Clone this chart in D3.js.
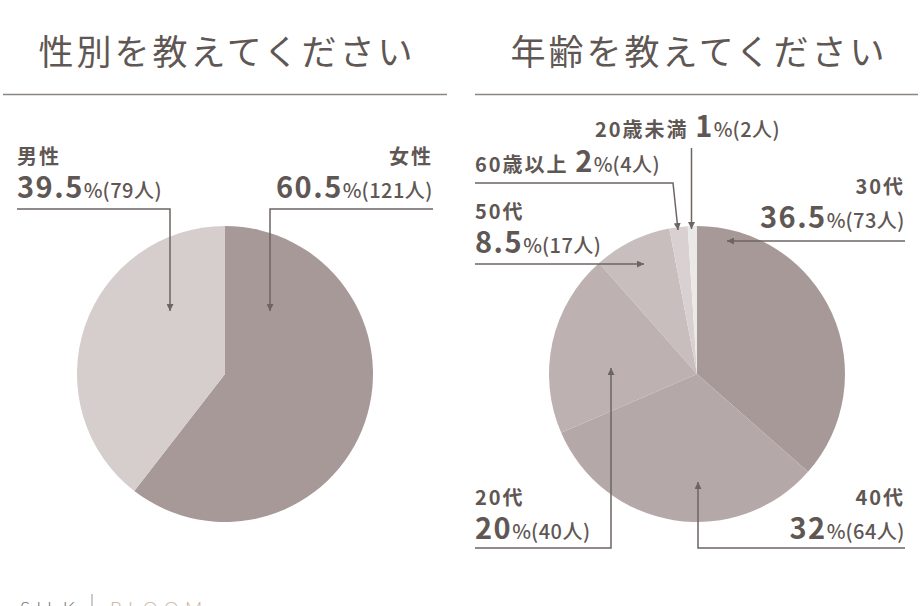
<!DOCTYPE html>
<html>
<head>
<meta charset="utf-8">
<script src="https://cdn.jsdelivr.net/npm/d3@7"></script>
<style>
  body { margin: 0; background: #fff; }
  svg { display: block; }
</style>
</head>
<body>
<script>
  // data
  var genderLabels = ['女性', '男性'];
  var genderValues = [60.5, 39.5];
  var genderCounts = [121, 79];

  var ageLabels = ['30代', '40代', '20代', '50代', '60歳以上', '20歳未満'];
  var ageValues = [36.5, 32, 20, 8.5, 2, 1];
  var ageCounts = [73, 64, 40, 17, 4, 2];

  var w = 921, h = 606;
  var ink = '#5f5754';
  var lineColor = '#6c6562';
  var font = "'Noto Sans CJK JP', 'Noto Sans', sans-serif";

  var svg = d3.select('body').append('svg')
    .attr('width', w)
    .attr('height', h);

  svg.append('defs').append('marker')
    .attr('id', 'arrow')
    .attr('viewBox', '0 0 10 10')
    .attr('refX', 10).attr('refY', 5)
    .attr('markerWidth', 7).attr('markerHeight', 7)
    .attr('markerUnits', 'userSpaceOnUse')
    .attr('orient', 'auto')
    .append('path')
    .attr('d', 'M0,0 L10,5 L0,10 Z')
    .attr('fill', lineColor);

  var pie = d3.pie().sort(null).value(function(d) { return d.value; });
  var arc = d3.arc().innerRadius(0).outerRadius(148);

  function drawPanel(cx, title, x0, x1, rows, colors) {
    svg.append('text')
      .attr('x', cx + 2).attr('y', 65)
      .attr('text-anchor', 'middle')
      .attr('font-family', font)
      .attr('font-weight', 400)
      .attr('font-size', 35)
      .attr('letter-spacing', 3)
      .attr('fill', '#5f5754')
      .text(title);

    svg.append('line')
      .attr('x1', x0).attr('x2', x1)
      .attr('y1', 94.5).attr('y2', 94.5)
      .attr('stroke', '#8c8682')
      .attr('stroke-width', 1.5);

    var g = svg.append('g').attr('transform', 'translate(' + cx + ',374)');
    g.selectAll('path')
      .data(pie(rows))
      .enter()
      .append('path')
      .attr('d', arc)
      .attr('fill', function(d, i) { return colors[i]; });
  }

  // value line: big number, small %, (n人)
  function valueText(sel, d, withName) {
    if (withName) {
      sel.append('tspan').attr('font-size', 20).attr('font-weight', 700)
        .attr('letter-spacing', 2).text(d.name + ' ');
    }
    sel.append('tspan').attr('font-size', 29).attr('font-weight', 700)
      .attr('letter-spacing', 1.5).text(d.value);
    sel.append('tspan').attr('font-size', 20).attr('font-weight', 500)
      .text('%');
    sel.append('tspan').attr('font-size', 20).attr('font-weight', 500)
      .attr('letter-spacing', 0.5).text('(' + d.count + '人)');
  }

  function label(d, a) {
    var anchor = a.align === 'right' ? 'end' : 'start';
    var t;
    if (a.single) {
      t = svg.append('text').attr('x', a.x).attr('y', a.y)
        .attr('text-anchor', anchor).attr('font-family', font).attr('fill', ink);
      valueText(t, d, true);
    } else {
      svg.append('text').attr('x', a.x).attr('y', a.y - 34)
        .attr('text-anchor', anchor).attr('font-family', font)
        .attr('font-size', 20).attr('font-weight', 700)
        .attr('letter-spacing', 2).attr('fill', ink)
        .text(d.name);
      t = svg.append('text').attr('x', a.x).attr('y', a.y)
        .attr('text-anchor', anchor).attr('font-family', font).attr('fill', ink);
      valueText(t, d, false);
    }
    svg.append('path')
      .attr('d', d3.line()(a.path))
      .attr('fill', 'none')
      .attr('stroke', lineColor)
      .attr('stroke-width', 1.5)
      .attr('marker-end', 'url(#arrow)');
  }

  function rowsOf(labels, values, counts) {
    return labels.map(function(n, i) {
      return { name: n, value: values[i], count: counts[i] };
    });
  }

  // gender
  var genderRows = rowsOf(genderLabels, genderValues, genderCounts);
  drawPanel(225, '性別を教えてください', 3, 447, genderRows, ['#a89999', '#d6cdcd']);
  var genderLayout = [
    { x: 433, y: 198, align: 'right', path: [[433, 209], [270, 209], [270, 311]] },
    { x: 17, y: 198, align: 'left', path: [[17, 209], [170, 209], [170, 311]] }
  ];
  genderRows.forEach(function(d, i) { label(d, genderLayout[i]); });

  // age
  var ageRows = rowsOf(ageLabels, ageValues, ageCounts);
  drawPanel(697, '年齢を教えてください', 475, 918, ageRows,
    ['#a89999', '#b5a8a8', '#bdb1b1', '#c8bebe', '#d9d1d1', '#ebe8e8']);
  var ageLayout = [
    { x: 905, y: 228, align: 'right', path: [[905, 241], [727, 241]] },
    { x: 905, y: 539, align: 'right', path: [[905, 548], [698, 548], [698, 482]] },
    { x: 475, y: 539, align: 'left', path: [[475, 548], [611, 548], [611, 368]] },
    { x: 475, y: 253, align: 'left', path: [[475, 264], [644, 264]] },
    { x: 475, y: 172, align: 'left', single: true, path: [[475, 183], [673, 183], [678, 230]] },
    { x: 595, y: 137, align: 'left', single: true, path: [[691.5, 148], [691.5, 229]] }
  ];
  ageRows.forEach(function(d, i) { label(d, ageLayout[i]); });

  // brand footer, cut off by the bottom edge
  svg.append('text')
    .attr('x', 20).attr('y', 616)
    .attr('font-family', "'Lato', sans-serif")
    .attr('font-weight', 300)
    .attr('font-size', 19)
    .attr('letter-spacing', 6)
    .attr('fill', '#7a7471')
    .text('SILK');
  svg.append('line')
    .attr('x1', 92).attr('x2', 92)
    .attr('y1', 594).attr('y2', 606)
    .attr('stroke', '#9a9490');
  svg.append('text')
    .attr('x', 110).attr('y', 616)
    .attr('font-family', "'Lato', sans-serif")
    .attr('font-weight', 300)
    .attr('font-size', 19)
    .attr('letter-spacing', 6)
    .attr('fill', '#c9b39f')
    .text('BLOOM');
</script>
</body>
</html>
